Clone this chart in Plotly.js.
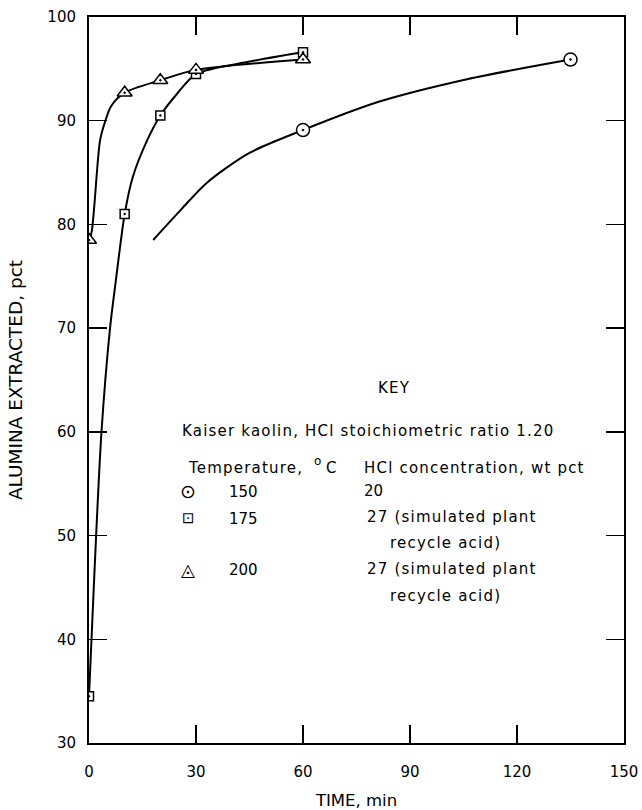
<!DOCTYPE html>
<html>
<head>
<meta charset="utf-8">
<script src="https://cdn.plot.ly/plotly-3.0.1.min.js"></script>
<style>html,body{margin:0;padding:0;background:#fff;}#chart{width:642px;height:810px;}</style>
</head>
<body>
<div id="chart"></div>
<script>
// ---- data ----
const xTicks = [0, 30, 60, 90, 120, 150];
const yTicks = [30, 40, 50, 60, 70, 80, 90, 100];

// 150 C : fitted curve and measured points
const curve150T = [18, 26, 33, 45, 60, 81, 106, 135];
const curve150V = [78.5, 81.5, 84.0, 86.9, 89.1, 91.8, 94.0, 95.9];
const pts150T = [60, 135];
const pts150V = [89.1, 95.9];

// 175 C
const curve175T = [0, 0.7, 2, 3.5, 5.9, 7.5, 10, 12.3, 16.3, 20, 24.7, 30, 45, 60];
const curve175V = [34.5, 40, 50, 60, 70, 74.5, 81, 84.6, 88.1, 90.5, 92.6, 94.5, 95.7, 96.6];
const pts175T = [0, 10, 20, 30, 60];
const pts175V = [34.5, 81, 90.5, 94.5, 96.6];

// 200 C
const curve200T = [0, 0.75, 3.1, 4.5, 6.2, 10, 20, 30, 60];
const curve200V = [78.5, 79.3, 88.1, 89.9, 91.4, 92.7, 93.9, 94.9, 95.9];
const pts200T = [0, 10, 20, 30, 60];
const pts200V = [78.5, 92.7, 93.9, 94.9, 95.9];

// ---- layout helpers ----
const W = 642, H = 810;
const M = {l: 89, r: 18, t: 17, b: 67};
const pw = W - M.l - M.r, ph = H - M.t - M.b;
const px = x => (x - M.l) / pw;
const py = y => (H - M.b - y) / ph;
const FONT = 'DejaVu Sans, Arial, sans-serif';
const sp = s => '<span style="letter-spacing:1.2px">' + s + '</span>';

function curve(t, v) {
  return {x: t, y: v, type: 'scatter', mode: 'lines', hoverinfo: 'skip',
    line: {color: '#000', width: 2, shape: 'spline', smoothing: 0.8}, showlegend: false};
}
function pts(t, v, sym, size) {
  return {x: t, y: v, type: 'scatter', mode: 'markers', showlegend: false,
    marker: {symbol: sym, size: size, color: '#fff', line: {color: '#000', width: 1.5}}};
}

const data = [
  curve(curve150T, curve150V),
  curve(curve175T, curve175V),
  curve(curve200T, curve200V),
  pts(pts150T, pts150V, 'circle-dot', 13),
  pts(pts175T, pts175V, 'square-dot', 9),
  pts(pts200T, pts200V, 'triangle-up-dot', 13)
];

function note(text, x, y, anchor, size) {
  return {text: text, xref: 'paper', yref: 'paper', x: px(x), y: py(y),
    xanchor: anchor || 'left', yanchor: 'middle', showarrow: false,
    font: {family: FONT, size: size || 15, color: '#000'}};
}

const annotations = [
  note(sp('KEY'), 394, 388, 'center'),
  note(sp('Kaiser kaolin, HCl stoichiometric ratio 1.20'), 180, 431),
  note(sp('Temperature,'), 186, 468),
  note('o', 312, 461, 'left', 12),
  note('C', 324, 468),
  note(sp('HCl concentration, wt pct'), 362, 468),
  note('\u2299', 188, 491, 'center', 19),
  note('150', 227, 492),
  note('20', 362, 491),
  note('\u22A1', 188, 518, 'center', 15),
  note('175', 227, 519),
  note(sp('27 (simulated plant'), 365, 517),
  note(sp('recycle acid)'), 388, 543),
  note('\u25EC', 188, 569, 'center', 18),
  note('200', 227, 570),
  note(sp('27 (simulated plant'), 365, 569),
  note(sp('recycle acid)'), 388, 596)
];

const axisCommon = {
  showline: true, linecolor: '#000', linewidth: 2, mirror: 'ticks',
  ticks: 'inside', ticklen: 18, tickwidth: 1.5, tickcolor: '#000',
  showgrid: false, zeroline: false, fixedrange: true,
  tickfont: {family: FONT, size: 15, color: '#000'}
};

const layout = {
  width: W, height: H, margin: M,
  paper_bgcolor: '#fff', plot_bgcolor: '#fff',
  showlegend: false,
  xaxis: Object.assign({}, axisCommon, {
    range: [0, 150], tickvals: xTicks, ticktext: xTicks.map(String),
    ticklabelstandoff: 14,
    title: {text: 'TIME, min', font: {family: FONT, size: 16.5, color: '#000'}, standoff: 14}
  }),
  yaxis: Object.assign({}, axisCommon, {
    range: [30, 100], tickvals: yTicks, ticktext: yTicks.map(String),
    ticklabelstandoff: 8,
    title: {text: 'ALUMINA EXTRACTED, pct', font: {family: FONT, size: 18.5, color: '#000'}, standoff: 20}
  }),
  annotations: annotations
};

Plotly.newPlot('chart', data, layout, {displayModeBar: false, staticPlot: true});
</script>
</body>
</html>
